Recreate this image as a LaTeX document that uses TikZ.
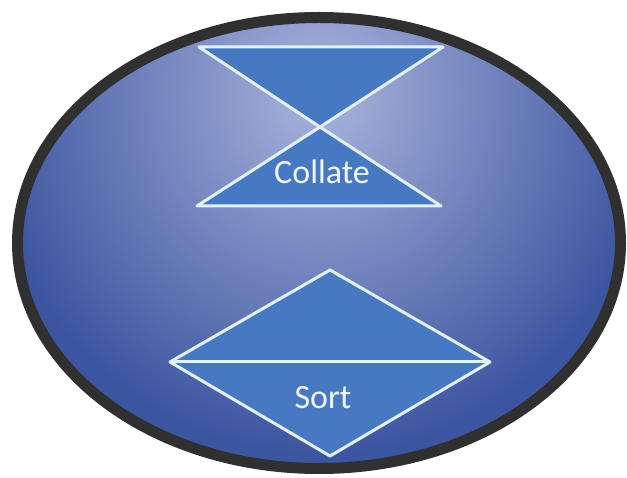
\documentclass[tikz,border=0pt]{standalone}
\usepackage{fontspec}
\setmainfont{Carlito}
\definecolor{rim}{HTML}{303030}
\definecolor{bglight}{HTML}{A9B3DC}
\definecolor{bgdark}{HTML}{3C55A0}
\definecolor{shapefill}{HTML}{4779C2}
\definecolor{shapeline}{HTML}{E2F0FA}
\definecolor{txt}{HTML}{F0F5FA}
\tikzset{
  symbol/.style={fill=shapefill, draw=shapeline, line width=3pt, line join=round},
  lbl/.style={text=txt, font=\fontsize{34}{40}\selectfont, inner sep=0pt}
}
\begin{document}
\begin{tikzpicture}[x=1pt,y=-1pt]
\useasboundingbox (0,0) rectangle (627,478);
% background ellipse
\begin{scope}
  \clip (319,243) ellipse [x radius=302pt, y radius=226pt];
  \fill[bgdark] (0,0) rectangle (627,478);
  \shade[inner color=bglight, outer color=bgdark] (320,95) ellipse [x radius=340pt, y radius=360pt];
\end{scope}
\draw[rim, line width=11pt] (319,243) ellipse [x radius=301.5pt, y radius=225.5pt];
% collate symbol
\coordinate (cTL) at (199,47);
\coordinate (cTR) at (443,47);
\coordinate (cM) at (320,127);
\coordinate (cBL) at (197,206);
\coordinate (cBR) at (441,206);
\draw[symbol] (cTL) -- (cTR) -- (cM) -- cycle;
\draw[symbol] (cM) -- (cBR) -- (cBL) -- cycle;
\node[lbl] (collate) at (322,172) {Collate};
% sort symbol
\coordinate (sT) at (330,270);
\coordinate (sR) at (490,362);
\coordinate (sB) at (330,456);
\coordinate (sL) at (170,362);
\draw[symbol] (sT) -- (sR) -- (sB) -- (sL) -- cycle;
\draw[draw=shapeline, line width=3pt] (sL) -- (sR);
\node[lbl] (sort) at (323,398) {Sort};
\end{tikzpicture}
\end{document}
